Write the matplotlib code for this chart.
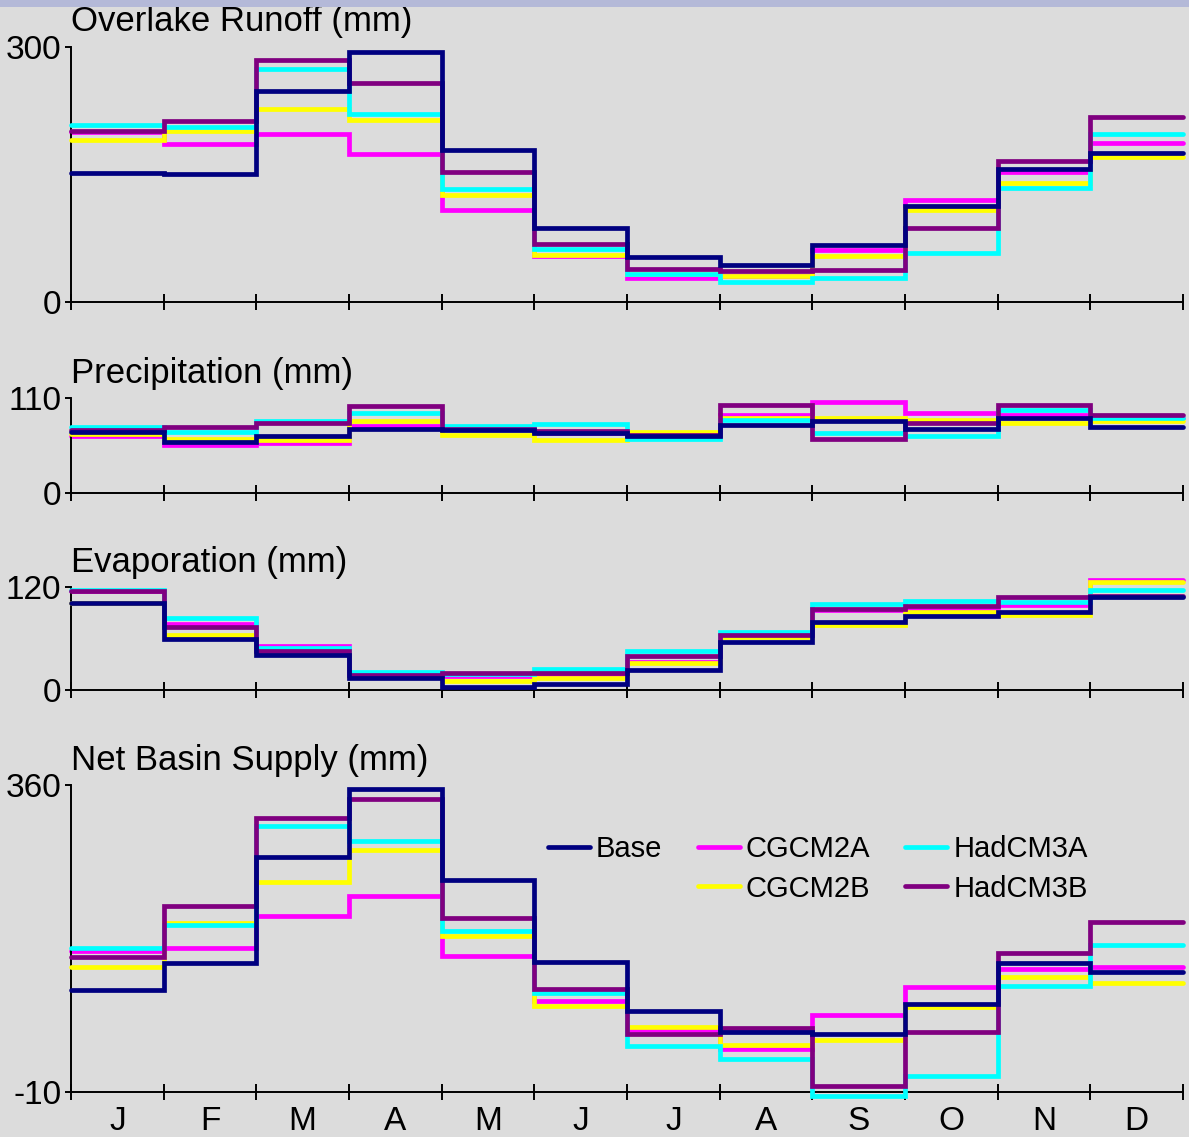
import matplotlib.pyplot as plt
import matplotlib.patches as mpatches
from matplotlib.lines import Line2D
import numpy as np

plt.rcParams['font.family'] = ['Liberation Sans', 'DejaVu Sans']

months = ['J', 'F', 'M', 'A', 'M', 'J', 'J', 'A', 'S', 'O', 'N', 'D']
series = ['Base', 'CGCM2A', 'CGCM2B', 'HadCM3A', 'HadCM3B']
colors = {'Base': '#000080', 'CGCM2A': '#ff00ff', 'CGCM2B': '#ffff00',
          'HadCM3A': '#00ffff', 'HadCM3B': '#800080'}

# Overlake runoff (mm)
runoff_base = [152, 150, 248, 294, 179, 87, 53, 44, 67, 113, 156, 175]
runoff_cgcm2a = [200, 186, 198, 174, 108, 54, 29, 31, 61, 120, 153, 187]
runoff_cgcm2b = [190, 201, 227, 214, 126, 56, 33, 31, 54, 108, 140, 170]
runoff_hadcm3a = [208, 206, 274, 221, 133, 63, 33, 24, 29, 58, 134, 198]
runoff_hadcm3b = [201, 213, 284, 257, 153, 69, 39, 37, 38, 87, 166, 218]

# Precipitation (mm)
precip_base = [71, 59, 66, 74, 73, 70, 66, 79, 83, 74, 87, 77]
precip_cgcm2a = [66, 56, 58, 78, 74, 70, 67, 91, 106, 93, 91, 87]
precip_cgcm2b = [68, 62, 61, 84, 67, 61, 71, 87, 87, 85, 81, 83]
precip_hadcm3a = [77, 71, 83, 93, 78, 80, 63, 85, 70, 66, 96, 87]
precip_hadcm3b = [73, 77, 81, 101, 74, 72, 67, 102, 63, 81, 102, 90]

# Evaporation (mm)
evap_base = [102, 60, 41, 14, 4, 7, 23, 56, 80, 86, 91, 109]
evap_cgcm2a = [116, 77, 51, 20, 16, 17, 33, 63, 93, 93, 99, 128]
evap_cgcm2b = [102, 64, 43, 16, 10, 14, 31, 62, 76, 91, 88, 126]
evap_hadcm3a = [117, 84, 49, 21, 19, 25, 45, 68, 101, 104, 103, 117]
evap_hadcm3b = [116, 74, 45, 18, 20, 20, 40, 64, 95, 98, 109, 110]

# Net basin supply (mm)
nbs_base = [113, 145, 273, 355, 245, 146, 87, 62, 60, 96, 145, 134]
nbs_cgcm2a = [160, 163, 202, 226, 154, 99, 65, 42, 82, 116, 138, 140]
nbs_cgcm2b = [140, 194, 243, 282, 178, 93, 68, 46, 52, 92, 128, 121]
nbs_hadcm3a = [163, 191, 310, 293, 184, 109, 45, 29, -15, 9, 118, 167]
nbs_hadcm3b = [153, 214, 320, 343, 200, 114, 60, 67, -3, 62, 157, 195]

panels = [
    ('Overlake Runoff (mm)', (0, 300),
     [runoff_base, runoff_cgcm2a, runoff_cgcm2b, runoff_hadcm3a, runoff_hadcm3b]),
    ('Precipitation (mm)', (0, 110),
     [precip_base, precip_cgcm2a, precip_cgcm2b, precip_hadcm3a, precip_hadcm3b]),
    ('Evaporation (mm)', (0, 120),
     [evap_base, evap_cgcm2a, evap_cgcm2b, evap_hadcm3a, evap_hadcm3b]),
    ('Net Basin Supply (mm)', (-10, 360),
     [nbs_base, nbs_cgcm2a, nbs_cgcm2b, nbs_hadcm3a, nbs_hadcm3b]),
]

# axes boxes in figure pixels: (top, bottom)
W, H = 1189, 1137
boxes = [(46.7, 302.3), (398.3, 492.7), (587.3, 690.0), (785.0, 1091.7)]
left_px, right_px = 71, 1183

bg = '#dcdcdc'
fig = plt.figure(figsize=(W / 100, H / 100), dpi=100, facecolor=bg)
fig.patches.append(mpatches.Rectangle((0, 1 - 7 / H), 1, 7 / H, transform=fig.transFigure,
                                      facecolor='#b4b9d8', edgecolor='none'))

edges = np.arange(13)
draw_order = ['CGCM2A', 'CGCM2B', 'HadCM3A', 'HadCM3B', 'Base']

for i, (title, ylim, data) in enumerate(panels):
    top, bot = boxes[i]
    ax = fig.add_axes([left_px / W, 1 - bot / H, (right_px - left_px) / W, (bot - top) / H])
    ax.set_facecolor(bg)
    vals = dict(zip(series, data))
    for z, name in enumerate(draw_order):
        sp = ax.stairs(vals[name], edges, baseline=None, color=colors[name],
                       linewidth=3.4, zorder=2 + z, clip_on=False)
        sp.set_capstyle('round')
    ax.set_xlim(0, 12)
    ax.set_ylim(*ylim)
    for s in ['top', 'right']:
        ax.spines[s].set_visible(False)
    for s in ['left', 'bottom']:
        ax.spines[s].set_linewidth(1.4)
    ax.set_yticks(list(ylim))
    ax.set_yticklabels([str(v) for v in ylim])
    ax.tick_params(axis='y', direction='out', length=4, width=1.4, pad=3, labelsize=24)
    ax.set_xticks(edges)
    ax.set_xticklabels([])
    ax.tick_params(axis='x', which='major', direction='inout', length=11, width=1.4)
    ax.set_xticks(edges[:-1] + 0.5, minor=True)
    if i == len(panels) - 1:
        ax.set_xticklabels(months, minor=True)
    ax.tick_params(axis='x', which='minor', length=0, pad=10, labelsize=24)
    ax.annotate(title, xy=(0, 1), xycoords='axes fraction', xytext=(0, 11),
                textcoords='offset points', ha='left', va='baseline', fontsize=25)

    if i == len(panels) - 1:
        handles = [Line2D([], [], color=colors['Base'], lw=3.4, solid_capstyle='round'),
                   Line2D([], [], color='none'),
                   Line2D([], [], color=colors['CGCM2A'], lw=3.4, solid_capstyle='round'),
                   Line2D([], [], color=colors['CGCM2B'], lw=3.4, solid_capstyle='round'),
                   Line2D([], [], color=colors['HadCM3A'], lw=3.4, solid_capstyle='round'),
                   Line2D([], [], color=colors['HadCM3B'], lw=3.4, solid_capstyle='round')]
        labels = ['Base', '', 'CGCM2A', 'CGCM2B', 'HadCM3A', 'HadCM3B']
        ax.legend(handles, labels, ncol=3, frameon=False, fontsize=21,
                  loc='upper left', bbox_to_anchor=(548 / W, 1 - 835 / H),
                  bbox_transform=fig.transFigure, borderpad=0, borderaxespad=0,
                  handlelength=1.45, handletextpad=0.2, columnspacing=1.2,
                  labelspacing=0.4)

fig.savefig('out.png', dpi=100, facecolor=bg)
